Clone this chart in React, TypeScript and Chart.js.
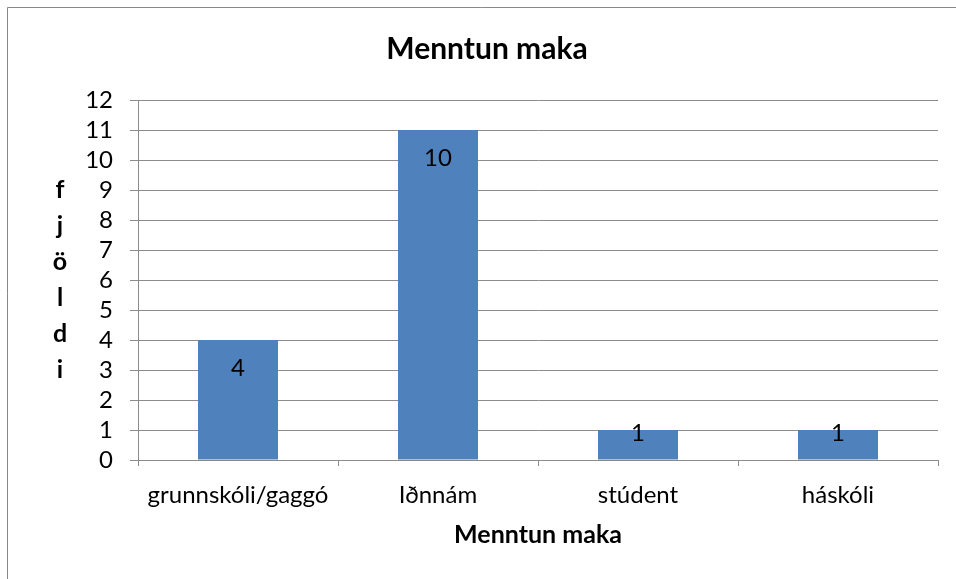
import React, { useEffect, useRef } from "react";
import { Chart, registerables } from "chart.js";

Chart.register(...registerables);

const categories = ["grunnskóli/gaggó", "Iðnnám", "stúdent", "háskóli"];
const values = [4, 11, 1, 1];
const dataLabels = ["4", "10", "1", "1"];
const yTicks = [0, 1, 2, 3, 4, 5, 6, 7, 8, 9, 10, 11, 12];
const chartTitle = "Menntun maka";
const xTitle = "Menntun maka";
const yTitleLetters = ["f", "j", "ö", "l", "d", "i"];

const FONT = "Lato, 'Open Sans', sans-serif";

const decorPlugin = {
  id: "decor",
  beforeDraw(chart: any) {
    const ctx = chart.ctx;
    ctx.save();
    ctx.fillStyle = "#ffffff";
    ctx.fillRect(0, 0, chart.width, chart.height);
    ctx.strokeStyle = "#888888";
    ctx.lineWidth = 1;
    ctx.beginPath();
    ctx.moveTo(7.5, chart.height);
    ctx.lineTo(7.5, 7.5);
    ctx.lineTo(chart.width, 7.5);
    ctx.stroke();
    ctx.restore();
  },
  afterDraw(chart: any) {
    const ctx = chart.ctx;
    const area = chart.chartArea;
    ctx.save();
    ctx.fillStyle = "#000000";
    ctx.textAlign = "center";
    ctx.textBaseline = "middle";
    ctx.font = `bold 30px ${FONT}`;
    ctx.fillText(chartTitle, 487, 49);
    ctx.font = `bold 25px ${FONT}`;
    ctx.fillText(xTitle, (area.left + area.right) / 2, 535);
    yTitleLetters.forEach((ch, i) => {
      ctx.fillText(ch, 60, 190 + i * 36);
    });
    // data labels
    ctx.font = `24px ${FONT}`;
    const meta = chart.getDatasetMeta(0);
    meta.data.forEach((bar: any, i: number) => {
      const top = bar.y;
      const bottom = bar.base;
      const y = bottom - top >= 60 ? top + 28 : top + 3;
      ctx.fillText(dataLabels[i], bar.x, y);
    });
    ctx.restore();
  },
};

export default function App() {
  const ref = useRef<HTMLCanvasElement | null>(null);
  useEffect(() => {
    if (!ref.current) return;
    const chart = new Chart(ref.current, {
      type: "bar",
      data: {
        labels: categories,
        datasets: [
          {
            data: values,
            backgroundColor: "#4F81BD",
            borderWidth: 0,
            barPercentage: 0.4,
            categoryPercentage: 1,
          },
        ],
      },
      options: {
        responsive: false,
        animation: false,
        layout: { padding: { top: 100, right: 18, left: 0, bottom: 0 } },
        plugins: {
          legend: { display: false },
          title: { display: false },
          tooltip: { enabled: false },
        },
        scales: {
          x: {
            offset: true,
            afterFit: (s: any) => {
              s.height = 119;
            },
            grid: {
              offset: true,
              drawOnChartArea: false,
              drawTicks: true,
              tickLength: 6,
              color: "#8c8c8c",
            },
            border: { display: true, color: "#8c8c8c", width: 1 },
            ticks: {
              color: "#000000",
              font: { family: FONT, size: 24 },
              padding: 15,
              maxRotation: 0,
              autoSkip: false,
            },
          },
          y: {
            min: 0,
            max: 12,
            afterFit: (s: any) => {
              s.width = 138;
            },
            afterBuildTicks: (s: any) => {
              s.ticks = yTicks.map((v) => ({ value: v }));
            },
            grid: {
              drawOnChartArea: true,
              drawTicks: true,
              tickLength: 8,
              color: "#8c8c8c",
            },
            border: { display: true, color: "#8c8c8c", width: 1 },
            ticks: {
              color: "#000000",
              font: { family: FONT, size: 24 },
              padding: 17,
              stepSize: 1,
              autoSkip: false,
            },
          },
        },
      },
      plugins: [decorPlugin],
    });
    return () => chart.destroy();
  }, []);
  return (
    <div style={{ position: "fixed", left: 0, top: 0, width: 956, height: 579, background: "#fff" }}>
      <canvas ref={ref} width={956} height={579} style={{ display: "block" }} />
    </div>
  );
}
